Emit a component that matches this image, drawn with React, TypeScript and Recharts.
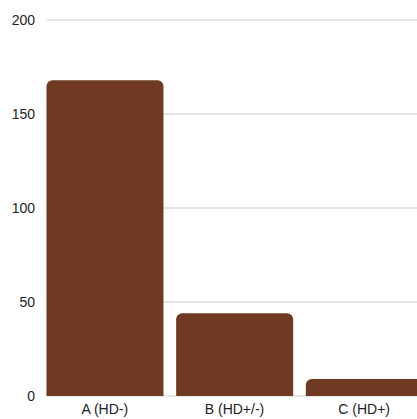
import { BarChart, Bar, XAxis, YAxis, CartesianGrid } from "recharts";

const groups = ["A (HD-)", "B (HD+/-)", "C (HD+)"];
const counts = [168, 44, 9];
const yTicks = [0, 50, 100, 150, 200];

const data = groups.map((name, i) => ({ name, value: counts[i] }));

const App = () => {
  return (
    <div style={{ position: "absolute", left: 0, top: 0, width: 417, height: 419, overflow: "hidden" }}>
      <BarChart
        width={429}
        height={419}
        data={data}
        margin={{ top: 20, right: 0, left: 0, bottom: 0 }}
        barCategoryGap="5%"
      >
        <CartesianGrid vertical={false} stroke="#cccccc" x={47} width={382} />
        <XAxis
          dataKey="name"
          axisLine={false}
          tickLine={false}
          height={23}
          tick={{ fill: "#222", fontSize: 14, fontFamily: "Liberation Sans, Arial, sans-serif" }}
        />
        <YAxis
          width={40}
          domain={[0, 200]}
          ticks={yTicks}
          axisLine={false}
          tickLine={false}
          tickSize={5}
          tickMargin={0}
          tick={{ fill: "#222", fontSize: 14, fontFamily: "Liberation Sans, Arial, sans-serif" }}
        />
        <Bar dataKey="value" fill="#6f3a21" radius={[6, 6, 0, 0]} isAnimationActive={false} />
      </BarChart>
    </div>
  );
};

export default App;
